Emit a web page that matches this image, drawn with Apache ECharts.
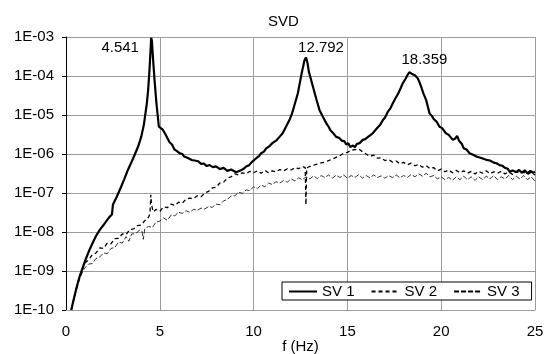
<!DOCTYPE html>
<html><head><meta charset="utf-8">
<script src="https://cdn.jsdelivr.net/npm/echarts@6/dist/echarts.min.js"></script>
<style>html,body{margin:0;padding:0;background:#fff}#c{width:544px;height:354px}</style>
</head><body><div id="c"></div>
<script>
var seriesNames = ['SV 1', 'SV 2', 'SV 3'];
var yTickLabels = ['1E-10','1E-09','1E-08','1E-07','1E-06','1E-05','1E-04','1E-03'];
var xTicks = [0, 5, 10, 15, 20, 25];
var peakFreqs = [4.541, 12.792, 18.359];
var peakVals = [9.5e-4, 3.0e-4, 1.3e-4];

var sv1F = [0.28,0.4,0.55,0.72,0.9,1.05,1.25,1.45,1.6,1.79,2.0,2.15,2.32,2.45,2.5,2.7,2.94,3.1,3.3,3.45,3.65,3.85,4.01,4.15,4.31,4.38,4.45,4.5,4.54,4.58,4.63,4.72,4.82,4.95,5.05,5.16,5.3,5.4,5.52,5.65,5.78,5.9,6.05,6.2,6.3,6.4,6.5,6.6,6.7,6.85,6.94,7.05,7.2,7.35,7.5,7.65,7.83,8.0,8.2,8.4,8.6,8.8,9.07,9.3,9.45,9.6,9.75,9.9,10.14,10.3,10.4,10.55,10.67,10.85,11.0,11.2,11.38,11.55,11.7,11.91,12.05,12.15,12.36,12.55,12.71,12.79,12.87,12.95,13.05,13.16,13.35,13.51,13.7,13.87,14.0,14.1,14.25,14.4,14.55,14.7,14.85,14.94,15.05,15.15,15.29,15.4,15.5,15.65,15.82,15.95,16.1,16.2,16.35,16.45,16.6,16.75,16.89,17.0,17.15,17.3,17.42,17.55,17.7,17.85,17.95,18.1,18.2,18.3,18.36,18.42,18.5,18.6,18.75,18.85,18.95,19.05,19.2,19.38,19.5,19.6,19.75,19.91,20.05,20.25,20.4,20.62,20.75,20.85,20.95,21.1,21.2,21.35,21.51,21.7,21.9,22.1,22.4,22.6,22.8,22.95,23.11,23.25,23.4,23.55,23.64,23.8,24.0,24.15,24.3,24.45,24.6,24.75,24.9,25.0];
var sv1V = [1.0e-10,1.78e-10,3.55e-10,7.1e-10,1.26e-9,2.0e-9,3.47e-9,5.6e-9,7.9e-9,1.12e-8,1.51e-8,1.9e-8,2.45e-8,2.8e-8,5.0e-8,7.9e-8,1.45e-7,2.24e-7,3.9e-7,5.6e-7,9.3e-7,1.58e-6,2.75e-6,5.6e-6,2.0e-5,4.5e-5,1.41e-4,4.0e-4,9.5e-4,7.9e-4,3.2e-4,7.9e-5,2.0e-5,5.0e-6,4.6e-6,4.2e-6,3.2e-6,2.9e-6,2.0e-6,1.75e-6,1.3e-6,1.2e-6,1.05e-6,1.0e-6,8.6e-7,9.0e-7,7.9e-7,8.0e-7,7.0e-7,6.8e-7,6.1e-7,6.5e-7,5.6e-7,5.7e-7,4.9e-7,5.2e-7,4.6e-7,4.8e-7,4.1e-7,4.4e-7,3.7e-7,4.0e-7,3.4e-7,3.8e-7,4.1e-7,4.8e-7,5.1e-7,6.2e-7,7.8e-7,9.0e-7,1.05e-6,1.15e-6,1.4e-6,1.6e-6,1.9e-6,2.2e-6,2.75e-6,3.4e-6,4.7e-6,7.4e-6,1.1e-5,1.6e-5,3.6e-5,1.1e-4,2.5e-4,3.0e-4,2.2e-4,1.26e-4,8.5e-5,5.4e-5,2.5e-5,1.35e-5,8.9e-6,6.2e-6,5.0e-6,4.0e-6,3.4e-6,2.75e-6,2.6e-6,2.2e-6,2.1e-6,1.75e-6,1.9e-6,1.5e-6,1.65e-6,1.5e-6,1.8e-6,1.9e-6,2.3e-6,2.4e-6,2.75e-6,2.9e-6,3.4e-6,3.6e-6,4.7e-6,5.6e-6,7.4e-6,8.5e-6,1.2e-5,1.5e-5,2.0e-5,2.6e-5,3.5e-5,5.0e-5,6.5e-5,8.5e-5,1.05e-4,1.25e-4,1.3e-4,1.15e-4,1.25e-4,1.05e-4,8.7e-5,6.8e-5,5.0e-5,3.6e-5,2.4e-5,1.1e-5,9.5e-6,7.9e-6,6.8e-6,5.0e-6,4.6e-6,3.4e-6,3.1e-6,2.3e-6,2.5e-6,2.9e-6,2.2e-6,1.8e-6,1.4e-6,1.3e-6,1.05e-6,9.6e-7,8.5e-7,8.0e-7,7.1e-7,6.8e-7,6.0e-7,5.8e-7,5.2e-7,5.0e-7,4.4e-7,4.2e-7,3.5e-7,3.8e-7,3.4e-7,3.9e-7,3.3e-7,3.8e-7,3.2e-7,3.7e-7,3.3e-7,3.5e-7];

var sv2F = [0.28,0.4,0.55,0.72,0.9,1.0,1.2,1.4,1.6,1.8,2.0,2.2,2.4,2.6,2.8,3.0,3.2,3.4,3.6,3.8,4.0,4.2,4.4,4.48,4.52,4.56,4.65,4.8,5.0,5.2,5.4,5.6,5.8,6.0,6.2,6.4,6.6,6.8,7.0,7.2,7.4,7.6,7.8,8.0,8.2,8.4,8.6,8.8,9.0,9.2,9.4,9.6,9.8,10.0,10.2,10.4,10.6,10.8,11.0,11.2,11.4,11.6,11.8,12.0,12.2,12.4,12.6,12.75,12.79,12.83,13.0,13.2,13.4,13.6,13.8,14.0,14.2,14.4,14.6,14.8,15.0,15.2,15.4,15.6,15.8,16.0,16.2,16.4,16.6,16.8,17.0,17.2,17.4,17.6,17.8,18.0,18.2,18.4,18.6,18.8,19.0,19.2,19.4,19.6,19.8,20.0,20.2,20.4,20.6,20.8,21.0,21.2,21.4,21.6,21.8,22.0,22.2,22.4,22.6,22.8,23.0,23.2,23.4,23.6,23.8,24.0,24.2,24.4,24.6,24.8,25.0];
var sv2V = [1.0e-10,1.78e-10,3.55e-10,7.1e-10,1.2e-9,1.6e-9,1.9e-9,2.6e-9,2.9e-9,3.9e-9,3.8e-9,5.2e-9,5.0e-9,6.8e-9,6.9e-9,8.9e-9,8.6e-9,1.15e-8,1.2e-8,1.45e-8,1.5e-8,1.95e-8,2.4e-8,3.0e-8,9.0e-8,5.0e-8,3.3e-8,3.8e-8,3.4e-8,4.4e-8,4.2e-8,5.2e-8,4.8e-8,5.8e-8,5.5e-8,7.0e-8,7.4e-8,7.2e-8,8.5e-8,8.0e-8,1.0e-7,1.1e-7,1.35e-7,1.4e-7,1.8e-7,1.9e-7,2.4e-7,2.6e-7,3.1e-7,2.9e-7,3.3e-7,3.1e-7,3.6e-7,3.3e-7,3.7e-7,3.2e-7,3.8e-7,3.3e-7,3.7e-7,3.5e-7,4.0e-7,3.7e-7,4.2e-7,3.9e-7,4.5e-7,4.2e-7,4.8e-7,4.5e-7,5.0e-8,4.4e-7,4.8e-7,5.2e-7,5.5e-7,5.9e-7,6.2e-7,6.8e-7,7.4e-7,8.2e-7,9.0e-7,1.05e-6,1.1e-6,1.25e-6,1.3e-6,1.35e-6,1.15e-6,1.0e-6,8.6e-7,9.3e-7,7.8e-7,8.0e-7,6.8e-7,7.2e-7,6.2e-7,6.6e-7,5.6e-7,6.1e-7,5.3e-7,5.8e-7,5.0e-7,5.4e-7,4.6e-7,5.0e-7,4.2e-7,4.5e-7,3.7e-7,4.1e-7,3.5e-7,3.9e-7,3.3e-7,3.8e-7,3.3e-7,3.7e-7,3.2e-7,3.6e-7,3.1e-7,3.6e-7,3.2e-7,3.7e-7,3.1e-7,3.5e-7,3.2e-7,3.6e-7,3.1e-7,3.5e-7,3.0e-7,3.6e-7,3.2e-7,3.4e-7,3.0e-7,3.4e-7,2.9e-7];

var sv3F = [0.28,0.4,0.55,0.72,0.9,1.0,1.2,1.4,1.6,1.8,2.0,2.2,2.4,2.6,2.8,3.0,3.2,3.35,3.5,3.7,3.9,4.05,4.12,4.2,4.4,4.6,4.8,5.0,5.2,5.4,5.6,5.8,6.0,6.2,6.4,6.6,6.8,7.0,7.2,7.4,7.6,7.8,8.0,8.2,8.4,8.6,8.8,9.0,9.2,9.4,9.6,9.8,10.0,10.2,10.4,10.6,10.8,11.0,11.2,11.4,11.6,11.8,12.0,12.2,12.4,12.6,12.8,13.0,13.2,13.4,13.6,13.8,14.0,14.2,14.4,14.6,14.8,15.0,15.2,15.4,15.6,15.8,16.0,16.2,16.4,16.6,16.8,17.0,17.2,17.4,17.6,17.8,18.0,18.2,18.4,18.6,18.8,19.0,19.2,19.4,19.6,19.8,20.0,20.2,20.4,20.6,20.8,21.0,21.2,21.4,21.6,21.8,22.0,22.2,22.4,22.6,22.8,23.0,23.2,23.4,23.6,23.8,24.0,24.2,24.4,24.6,24.8,25.0];
var sv3V = [1.0e-10,1.66e-10,3.16e-10,6.0e-10,1.0e-9,1.2e-9,1.5e-9,1.55e-9,2.1e-9,2.3e-9,2.9e-9,2.8e-9,3.8e-9,4.0e-9,5.5e-9,5.2e-9,7.6e-9,5.8e-9,8.9e-9,9.0e-9,1.1e-8,1.05e-8,6.5e-9,1.2e-8,1.4e-8,1.3e-8,1.8e-8,1.9e-8,2.3e-8,2.0e-8,2.7e-8,2.6e-8,3.2e-8,3.0e-8,3.5e-8,3.2e-8,3.8e-8,3.6e-8,4.1e-8,3.9e-8,4.5e-8,4.3e-8,5.2e-8,5.0e-8,6.3e-8,6.8e-8,8.4e-8,8.5e-8,1.05e-7,9.8e-8,1.2e-7,1.15e-7,1.45e-7,1.3e-7,1.6e-7,1.45e-7,1.8e-7,1.65e-7,1.95e-7,1.8e-7,2.1e-7,1.9e-7,2.3e-7,2.05e-7,2.45e-7,2.2e-7,2.6e-7,2.3e-7,2.75e-7,2.35e-7,2.8e-7,2.5e-7,2.9e-7,2.4e-7,2.85e-7,2.5e-7,2.9e-7,2.4e-7,2.8e-7,2.5e-7,2.95e-7,2.4e-7,2.8e-7,2.45e-7,2.9e-7,2.5e-7,2.75e-7,2.4e-7,2.8e-7,2.5e-7,2.9e-7,2.45e-7,2.8e-7,2.5e-7,3.0e-7,2.6e-7,3.1e-7,2.7e-7,3.2e-7,2.6e-7,2.8e-7,2.3e-7,2.6e-7,2.2e-7,2.5e-7,2.1e-7,2.6e-7,2.2e-7,2.7e-7,2.2e-7,2.6e-7,2.1e-7,2.6e-7,2.2e-7,2.7e-7,2.3e-7,2.8e-7,2.2e-7,2.6e-7,2.3e-7,2.8e-7,2.2e-7,2.7e-7,2.3e-7,2.8e-7,2.2e-7,2.6e-7,2.0e-7];

function zip(a, b) { return a.map(function (x, i) { return [x, b[i]]; }); }

var FONT = 'Liberation Sans, Arial, sans-serif';
var chart = echarts.init(document.getElementById('c'), null, {renderer: 'canvas'});
var peakOffsets = [[-31, 10], [15, -10], [14, -12]];
var GRIDC = '#9c9c9c';

chart.setOption({
  animation: false,
  backgroundColor: '#fff',
  title: {
    text: 'SVD', left: 263, top: 9,
    textStyle: {fontFamily: FONT, fontSize: 15, fontWeight: 'normal', color: '#000'}
  },
  legend: {
    left: 282, top: 282,
    data: seriesNames,
    orient: 'horizontal',
    backgroundColor: '#fff',
    borderColor: '#000', borderWidth: 1,
    padding: [2, 12, 1, 6],
    itemGap: 16, itemWidth: 28, itemHeight: 10,
    itemStyle: {opacity: 0, borderWidth: 0},
    textStyle: {fontFamily: FONT, fontSize: 15, color: '#000'}
  },
  grid: {left: 66, right: 9, top: 37, bottom: 44, containLabel: false, outerBoundsMode: 'none'},
  xAxis: {
    type: 'value', min: 0, max: 25, interval: 5,
    name: 'f (Hz)', nameLocation: 'middle', nameGap: 29, nameMoveOverlap: false,
    nameTextStyle: {fontFamily: FONT, fontSize: 15, color: '#000'},
    axisLine: {show: true, lineStyle: {color: GRIDC, width: 1}},
    axisTick: {show: false},
    axisLabel: {fontFamily: FONT, fontSize: 15, color: '#000', margin: 14,
      formatter: function (v) { return xTicks.indexOf(v) >= 0 ? String(v) : ''; }},
    splitLine: {show: true, lineStyle: {color: GRIDC, width: 1}}
  },
  yAxis: {
    type: 'log', logBase: 10, min: 1e-10, max: 1e-3,
    axisLine: {show: true, lineStyle: {color: '#000', width: 1}},
    axisTick: {show: true, length: 4, lineStyle: {color: '#000'}},
    axisLabel: {fontFamily: FONT, fontSize: 15, color: '#000', margin: 12,
      formatter: function (v) {
        var e = Math.round(Math.log(v) / Math.LN10);
        return yTickLabels[e + 10] || '';
      }},
    splitLine: {show: true, lineStyle: {color: GRIDC, width: 1}}
  },
  series: [
    {
      name: seriesNames[0], type: 'line', symbol: 'none', z: 5,
      data: zip(sv1F, sv1V),
      lineStyle: {color: '#000', width: 2.2, type: 'solid'},
      itemStyle: {color: '#000'},
      markPoint: {
        symbol: 'circle', symbolSize: 0,
        data: peakFreqs.map(function (f, i) {
          return {coord: [f, peakVals[i]], value: f.toFixed(3),
            label: {show: true, position: 'inside', offset: peakOffsets[i], formatter: f.toFixed(3),
              fontFamily: FONT, fontSize: 15, color: '#000'}};
        })
      }
    },
    {
      name: seriesNames[1], type: 'line', symbol: 'none', z: 4,
      data: zip(sv2F, sv2V),
      lineStyle: {color: '#000', width: 1.3, type: [4, 3]},
      itemStyle: {color: '#000'}
    },
    {
      name: seriesNames[2], type: 'line', symbol: 'none', z: 3,
      data: zip(sv3F, sv3V),
      lineStyle: {color: '#000', width: 0.8, type: [5, 2]},
      itemStyle: {color: '#000'}
    }
  ]
});
</script></body></html>
